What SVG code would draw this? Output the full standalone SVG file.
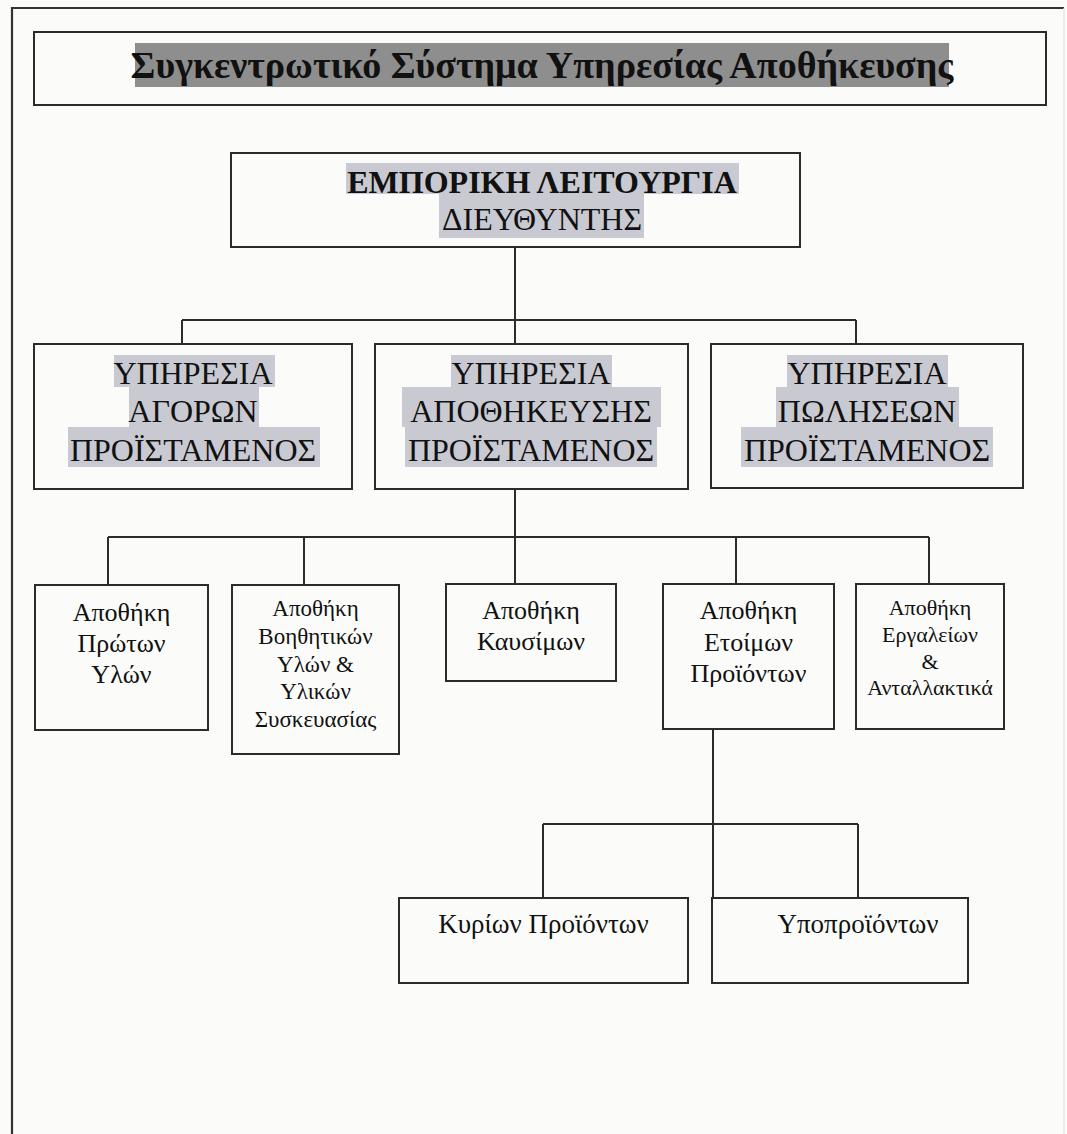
<svg xmlns="http://www.w3.org/2000/svg" width="1067" height="1134" viewBox="0 0 1067 1134">
  <defs>
    <style>
      .box { fill: none; stroke: #2b2b2b; stroke-width: 2; }
      .wire { fill: none; stroke: #2b2b2b; stroke-width: 2; }
      .frame { fill: none; stroke: #333; stroke-width: 2.2; }
      .hl { fill: #c8c9d1; }
      .hl-dark { fill: #8e8e8e; }
      .t { font-family: "Liberation Serif", "Times New Roman", serif; fill: #111; text-anchor: middle; }
      .title { font-size: 38px; font-weight: bold; }
      .head { font-size: 32px; }
      .head-b { font-size: 32px; font-weight: bold; }
      .unit { font-size: 32px; }
      .store { font-size: 26px; }
      .store-s { font-size: 23px; }
      .store-xs { font-size: 22px; }
      .leaf { font-size: 27px; }
    </style>
  </defs>

  <rect x="0" y="0" width="1067" height="1134" fill="#fbfcfa"/>

  <!-- page frame -->
  <path class="frame" d="M12 1134 V8 H1064"/>
  <path d="M1064 8 V1134" fill="none" stroke="#e2e2e2" stroke-width="1.2"/>

  <!-- title -->
  <g id="title">
    <rect class="box" x="34" y="32" width="1012" height="73"/>
    <rect class="hl-dark" x="135" y="43" width="814" height="44"/>
    <text class="t title" x="542" y="78">Συγκεντρωτικό Σύστημα Υπηρεσίας Αποθήκευσης</text>
  </g>

  <!-- connectors -->
  <g id="connectors">
    <path class="wire" d="M515 247 V344 M182 320 H856 M182 320 V344 M856 320 V344"/>
    <path class="wire" d="M515 489 V584 M108 537 H929 M108 537 V585 M304 537 V585 M736 537 V584 M929 537 V584"/>
    <path class="wire" d="M713 729 V898 M543 824 H858 M543 824 V898 M858 824 V898"/>
  </g>

  <!-- top management -->
  <g id="commercial">
    <rect class="box" x="231" y="153" width="569" height="94"/>
    <rect class="hl" x="346" y="163" width="393" height="31"/>
    <rect class="hl" x="439" y="194" width="205" height="44"/>
    <text class="t head-b" x="542" y="193">ΕΜΠΟΡΙΚΗ ΛΕΙΤΟΥΡΓΙΑ</text>
    <text class="t head" x="542" y="230">ΔΙΕΥΘΥΝΤΗΣ</text>
  </g>

  <!-- departments -->
  <g id="purchasing">
    <rect class="box" x="34" y="344" width="318" height="145"/>
    <rect class="hl" x="114" y="355" width="161" height="32"/>
    <rect class="hl" x="129" y="387" width="130" height="40"/>
    <rect class="hl" x="68" y="427" width="252" height="40"/>
    <text class="t unit" x="193" y="384">ΥΠΗΡΕΣΙΑ</text>
    <text class="t unit" x="193" y="422">ΑΓΟΡΩΝ</text>
    <text class="t unit" x="193" y="461">ΠΡΟΪΣΤΑΜΕΝΟΣ</text>
  </g>

  <g id="storage">
    <rect class="box" x="375" y="344" width="313" height="145"/>
    <rect class="hl" x="451" y="355" width="161" height="32"/>
    <rect class="hl" x="402" y="387" width="259" height="40"/>
    <rect class="hl" x="405" y="427" width="252" height="40"/>
    <text class="t unit" x="531" y="384">ΥΠΗΡΕΣΙΑ</text>
    <text class="t unit" x="531" y="422">ΑΠΟΘΗΚΕΥΣΗΣ</text>
    <text class="t unit" x="531" y="461">ΠΡΟΪΣΤΑΜΕΝΟΣ</text>
  </g>

  <g id="sales">
    <rect class="box" x="711" y="344" width="312" height="144"/>
    <rect class="hl" x="787" y="355" width="161" height="32"/>
    <rect class="hl" x="776" y="387" width="183" height="40"/>
    <rect class="hl" x="741" y="427" width="252" height="40"/>
    <text class="t unit" x="867" y="384">ΥΠΗΡΕΣΙΑ</text>
    <text class="t unit" x="867" y="422">ΠΩΛΗΣΕΩΝ</text>
    <text class="t unit" x="867" y="461">ΠΡΟΪΣΤΑΜΕΝΟΣ</text>
  </g>

  <!-- warehouses -->
  <g id="raw-materials">
    <rect class="box" x="35" y="585" width="173" height="145"/>
    <text class="t store" x="121.5" y="621">Αποθήκη</text>
    <text class="t store" x="121.5" y="652">Πρώτων</text>
    <text class="t store" x="121.5" y="683">Υλών</text>
  </g>

  <g id="auxiliary-packaging">
    <rect class="box" x="232" y="585" width="167" height="169"/>
    <text class="t store-s" x="315.5" y="616">Αποθήκη</text>
    <text class="t store-s" x="315.5" y="644">Βοηθητικών</text>
    <text class="t store-s" x="315.5" y="672">Υλών &amp;</text>
    <text class="t store-s" x="315.5" y="699">Υλικών</text>
    <text class="t store-s" x="315.5" y="727">Συσκευασίας</text>
  </g>

  <g id="fuel">
    <rect class="box" x="446" y="584" width="170" height="97"/>
    <text class="t store" x="531" y="619">Αποθήκη</text>
    <text class="t store" x="531" y="650">Καυσίμων</text>
  </g>

  <g id="finished-goods">
    <rect class="box" x="663" y="584" width="171" height="145"/>
    <text class="t store" x="748.5" y="619">Αποθήκη</text>
    <text class="t store" x="748.5" y="651">Ετοίμων</text>
    <text class="t store" x="748.5" y="682">Προϊόντων</text>
  </g>

  <g id="tools-spares">
    <rect class="box" x="856" y="584" width="148" height="145"/>
    <text class="t store-xs" x="930" y="615">Αποθήκη</text>
    <text class="t store-xs" x="930" y="642">Εργαλείων</text>
    <text class="t store-xs" x="930" y="669">&amp;</text>
    <text class="t store-xs" x="930" y="695">Ανταλλακτικά</text>
  </g>

  <!-- finished goods split -->
  <g id="main-products">
    <rect class="box" x="399" y="898" width="289" height="85"/>
    <text class="t leaf" x="543.5" y="933">Κυρίων Προϊόντων</text>
  </g>

  <g id="by-products">
    <rect class="box" x="712" y="898" width="256" height="85"/>
    <text class="t leaf" x="858" y="933">Υποπροϊόντων</text>
  </g>
</svg>
